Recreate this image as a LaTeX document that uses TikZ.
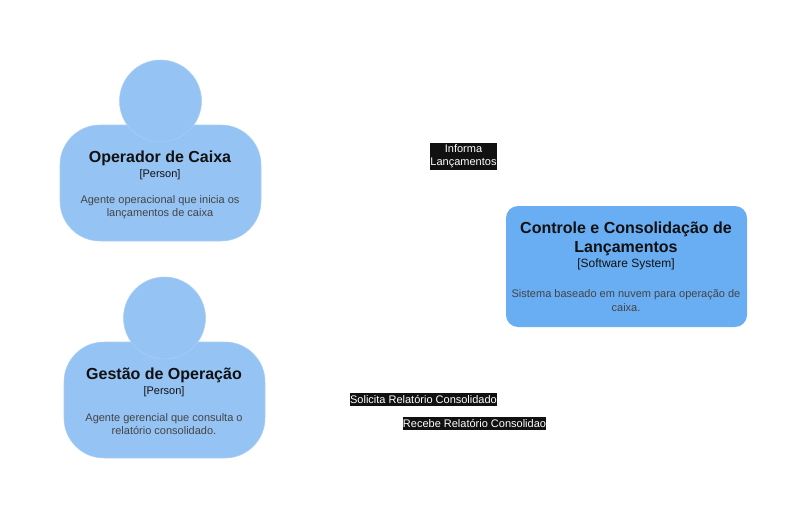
\documentclass[tikz,border=0pt]{standalone}
\usepackage{fontspec}
\setmainfont{Liberation Sans}
\definecolor{personblue}{HTML}{95C3F3}
\definecolor{personline}{HTML}{A9CFF6}
\definecolor{systemblue}{HTML}{69ADF3}
\definecolor{titleblack}{HTML}{111111}
\definecolor{descgray}{HTML}{444444}
\tikzset{
  personbody/.style={draw=personline, fill=personblue, rounded corners=30pt,
    minimum width=150.75pt, minimum height=87pt, inner sep=0pt},
  personhead/.style={circle, draw=personline, fill=personblue,
    minimum size=61.5pt, inner sep=0pt},
  systembox/.style={fill=systemblue, rounded corners=9pt,
    minimum width=180.75pt, minimum height=90.75pt, inner sep=0pt},
  titletext/.style={font=\bfseries\fontsize{12}{14.4}\selectfont, text=titleblack, align=center, inner sep=0pt},
  typetext/.style={font=\fontsize{9}{10.8}\selectfont, text=titleblack, align=center, inner sep=0pt},
  persontype/.style={typetext, font=\fontsize{8.25}{10}\selectfont},
  desctext/.style={font=\fontsize{8.25}{10.5}\selectfont, text=descgray, align=center, inner sep=0pt},
  persondesc/.style={desctext, font=\fontsize{8.25}{9.75}\selectfont},
  relabel/.style={fill=titleblack, text=white, font=\fontsize{8.25}{10.1}\selectfont,
    align=center, inner sep=0pt, minimum height=9.75pt}
}
\begin{document}
\begin{tikzpicture}[x=0.75pt, y=-0.75pt]
  \useasboundingbox (0,0) rectangle (807,518);

  % Operador de Caixa
  \node[personbody] (operadorbody) at (160.5,183) {};
  \node[personhead] (operadorhead) at (160.5,101) {};
  \node[titletext] (operadortitle) at (160,158) {Operador de Caixa};
  \node[persontype] (operadortype) at (160,174.5) {[Person]};
  \node[persondesc] (operadordesc) at (160,207) {Agente operacional que inicia os\\lançamentos de caixa};

  % Gestao de Operacao
  \node[personbody] (gestaobody) at (164.5,400) {};
  \node[personhead] (gestaohead) at (164.5,318) {};
  \node[titletext] (gestaotitle) at (164,375) {Gestão de Operação};
  \node[persontype] (gestaotype) at (164,391.5) {[Person]};
  \node[persondesc] (gestaodesc) at (164,424) {Agente gerencial que consulta o\\relatório consolidado.};

  % Controle e Consolidacao
  \node[systembox] (sistema) at (626.5,266.5) {};
  \node[titletext] (sistematitle) at (626,239) {Controle e Consolidação de\\Lançamentos};
  \node[typetext] (sistematype) at (626,264.5) {[Software System]};
  \node[desctext] (sistemadesc) at (626,301) {Sistema baseado em nuvem para operação de\\caixa.};

  % Labels
  \node[relabel, minimum height=20.25pt] (informa) at (463.5,156) {Informa\\Lançamentos};
  \node[relabel] (solicita) at (423.5,399.5) {Solicita Relatório Consolidado};
  \node[relabel] (recebe) at (474.5,423.5) {Recebe Relatório Consolidao};
\end{tikzpicture}
\end{document}
